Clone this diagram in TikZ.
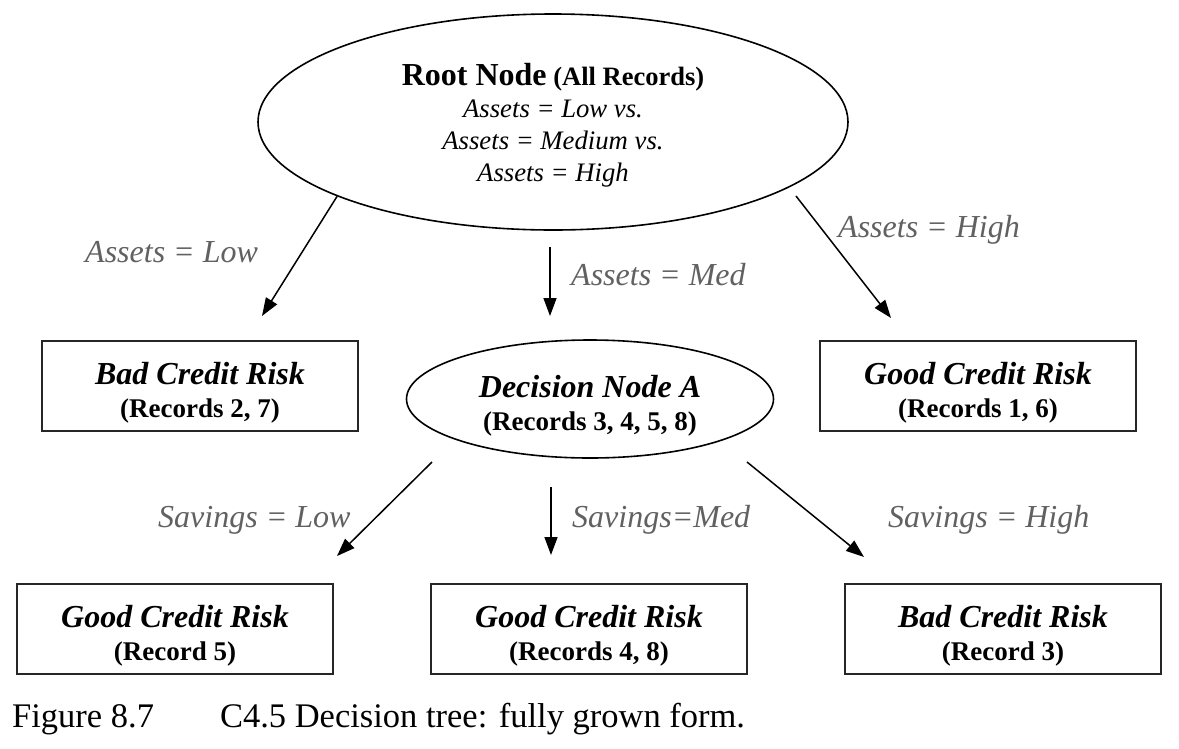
\documentclass[tikz,border=0pt]{standalone}
\usepackage{fontspec}
\setmainfont{Liberation Serif}
\usetikzlibrary{arrows.meta,shapes.geometric}
\tikzset{
  ell/.style={draw=black, line width=1.6pt, ellipse, inner sep=0pt, align=center},
  leaf/.style={draw=black!85, line width=1.6pt, rectangle, inner sep=0pt,
    minimum width=316pt, minimum height=90pt, align=center,
    font=\fontsize{27}{33}\selectfont\bfseries},
  lab/.style={anchor=base west, inner sep=0pt, text=black!62,
    font=\fontsize{32}{32}\selectfont\itshape},
  arr/.style={line width=1.5pt, -{Triangle[length=18pt,width=13pt]}},
}
\newcommand{\headline}[1]{{\fontsize{32}{33}\selectfont\itshape\rule{0pt}{35pt}#1}\\}
\begin{document}
\begin{tikzpicture}[x=1pt,y=-1pt]
\useasboundingbox[fill=white] (0,0) rectangle (1179,748);

% root ellipse
\node[ell, minimum width=590pt, minimum height=216pt,
      font=\fontsize{26.7}{32}\selectfont] (root) at (553,122)
  {\rule{0pt}{29pt}{\fontsize{32}{32}\selectfont\bfseries Root Node} {\fontsize{26.5}{32}\selectfont\bfseries (All Records)}\\
   \itshape Assets = Low vs.\\
   \itshape Assets = Medium vs.\\
   \itshape Assets = High};

% level 1
\node[leaf] (bad1) at (200,386) {\headline{Bad Credit Risk}(Records 2, 7)};
\node[ell, minimum width=367pt, minimum height=118pt,
      font=\fontsize{27}{33}\selectfont\bfseries] (decA) at (590,399)
  {\headline{Decision Node A}(Records 3, 4, 5, 8)};
\node[leaf] (good1) at (978,386) {\headline{Good Credit Risk}(Records 1, 6)};

% level 2
\node[leaf] (good2) at (175,629) {\headline{Good Credit Risk}(Record 5)};
\node[leaf] (good3) at (589,629) {\headline{Good Credit Risk}(Records 4, 8)};
\node[leaf] (bad2) at (1003,629) {\headline{Bad Credit Risk}(Record 3)};

% arrow end points
\coordinate (e1) at (262,316);
\coordinate (s2) at (550,247);
\coordinate (e2) at (550,316);
\coordinate (s3) at (796,196);
\coordinate (e3) at (891,318);
\coordinate (s4) at (432,462);
\coordinate (e4) at (337,556);
\coordinate (s5) at (551,487);
\coordinate (e5) at (551,555);
\coordinate (s6) at (747,462);
\coordinate (e6) at (864,557);

\draw[arr] (root.199) -- (e1);
\draw[arr] (s2) -- (e2);
\draw[arr] (s3) -- (e3);
\draw[arr] (s4) -- (e4);
\draw[arr] (s5) -- (e5);
\draw[arr] (s6) -- (e6);

% labels
\node[lab] (l1) at (85,262) {Assets = Low};
\node[lab] (l2) at (571,285) {Assets = Med};
\node[lab] (l3) at (838,237) {Assets = High};
\node[lab] (l4) at (158,527) {Savings = Low};
\node[lab] (l5) at (572,527) {Savings=Med};
\node[lab] (l6) at (888,527) {Savings = High};

% caption
\node[anchor=base west, inner sep=0pt, font=\fontsize{34.5}{36}\selectfont] (cap) at (12,727)
  {Figure 8.7\hspace{66pt}C4.5 Decision tree: fully grown form.};
\end{tikzpicture}
\end{document}
